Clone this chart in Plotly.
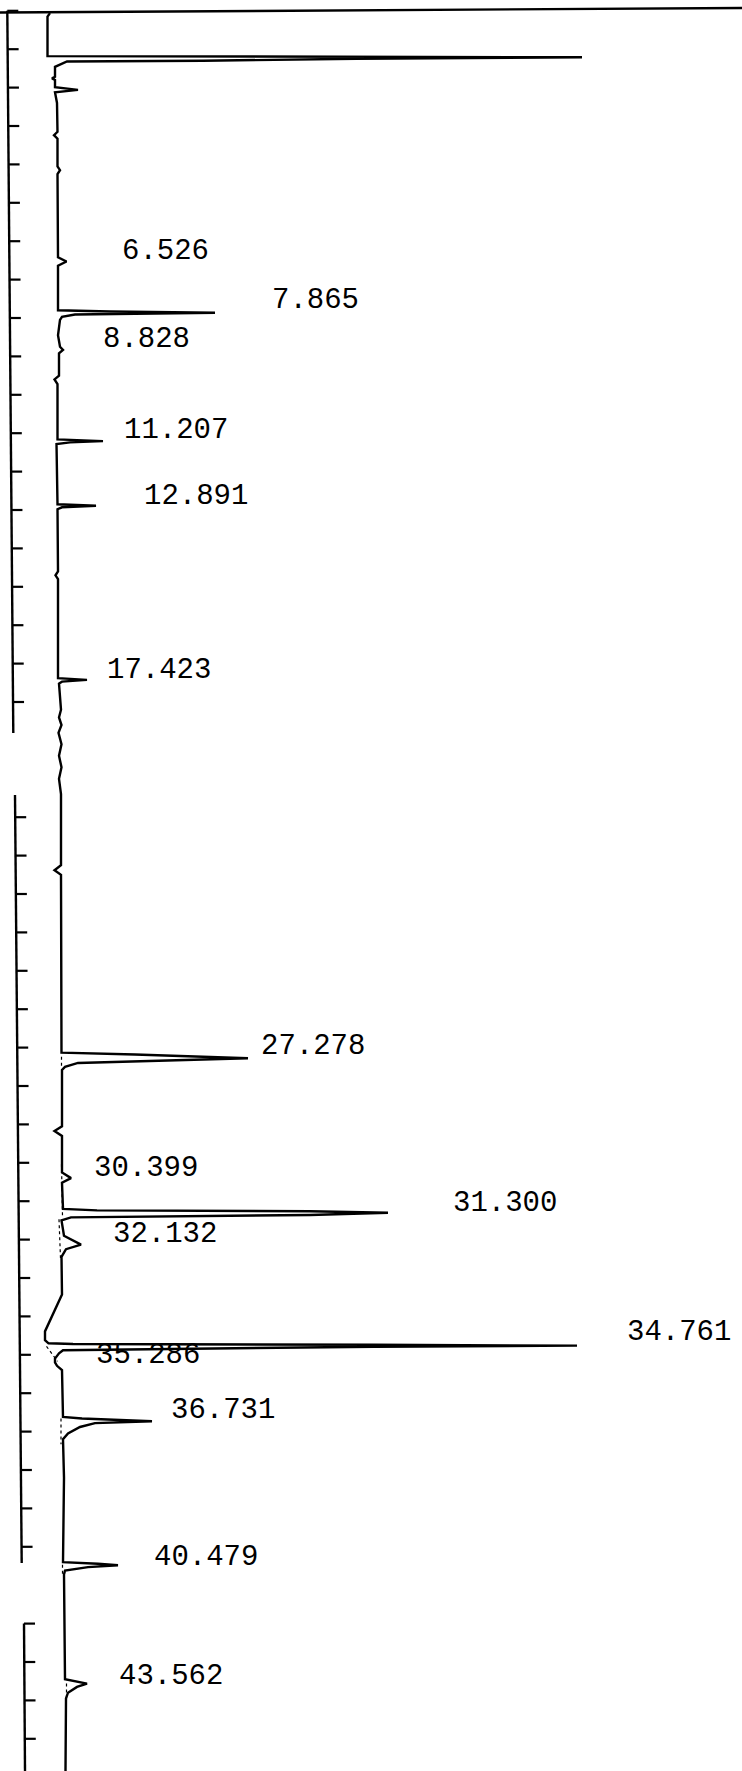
import plotly.graph_objects as go

# ---------------- data ----------------
# retention time (min) along the vertical axis, detector signal (arb. units) horizontally
time_min = [0.06, 0.15, 1.18, 1.20, 1.21, 1.25, 1.30, 1.32, 1.46, 1.72, 1.76, 1.80, 1.99, 2.06, 2.12,
            2.40, 3.15, 3.24, 3.33, 4.05, 4.15, 4.25, 5.40, 6.42, 6.53, 6.64,
            7.80, 7.83, 7.865, 7.91, 7.97, 8.05, 8.45, 8.75, 8.83, 8.92, 9.50, 9.60, 9.72,
            11.16, 11.207, 11.24, 11.28, 12.00, 12.85, 12.891, 12.93, 12.98,
            14.60, 14.70, 14.80, 17.38, 17.423, 17.47, 17.52,
            18.20, 18.40, 18.60, 18.80, 19.10, 19.40, 19.70, 20.00, 20.40, 22.25, 22.38, 22.50,
            27.13, 27.18, 27.278, 27.33, 27.40, 27.50, 27.58, 29.05, 29.17, 29.30,
            30.25, 30.399, 30.52, 31.20, 31.24, 31.26, 31.300, 31.36, 31.42, 31.50,
            31.90, 32.132, 32.25, 32.45, 33.43, 34.39, 34.62, 34.70, 34.72, 34.74, 34.761, 34.79,
            34.88, 34.96, 35.10, 35.20, 35.286, 35.40,
            36.62, 36.66, 36.731, 36.78, 36.88, 37.05, 37.20, 38.20,
            40.40, 40.44, 40.479, 40.53, 40.62, 40.72,
            43.45, 43.562, 43.65, 43.80, 43.95, 45.84]
signal = [-1.3, -1.8, -1.8, 60.0, 105.1, 60.0, 29.3, 2.1, -0.3, -0.3, -0.9, -0.3, -0.3, 4.3, -0.3,
          0.1, 0.2, -0.5, 0.2, 0.2, 0.7, 0.2, 0.3, 0.3, 2.0, 0.3,
          0.3, 10.7, 31.7, 3.7, 1.1, 0.7, 0.3, 0.7, 1.3, 0.5, 0.5, -0.4, 0.2,
          0.2, 9.3, 2.7, 0.0, 0.1, 0.2, 7.9, 1.1, 0.2,
          0.3, -0.2, 0.3, 0.3, 6.1, 1.1, 0.5,
          0.9, 0.5, 1.0, 0.4, 1.0, 0.5, 1.0, 0.5, 0.9, 0.9, -0.4, 0.9,
          1.0, 15.7, 38.3, 22.1, 4.3, 1.7, 1.1, 1.1, -0.4, 1.1,
          1.1, 2.9, 1.1, 1.3, 8.1, 50.7, 66.3, 50.7, 2.9, 1.0,
          1.5, 4.9, 1.9, 1.0, 1.1, -2.3, -2.3, -1.6, 3.3, 63.5, 104.1, 63.5,
          1.3, 0.5, -0.3, -0.3, 0.1, 1.1,
          1.3, 5.1, 19.1, 7.7, 4.7, 2.3, 1.3, 1.5,
          1.3, 8.3, 12.3, 6.3, 1.7, 1.5,
          1.7, 6.1, 4.1, 2.3, 1.9, 1.8]

# integrator baselines (dotted), segments separated by None
base_time = [27.24, 27.50, None, 30.04, 31.39, None, 31.47, 32.48, None, 34.78, 35.17, None,
             36.66, 37.33, None, 40.47, 40.75, None, 43.56, 43.95]
base_signal = [1.0, 1.0, None, 1.0, 1.2, None, 0.5, 0.8, None, -2.0, 0.2, None,
               0.9, 0.9, None, 1.2, 1.2, None, 2.0, 2.0]

peak_labels = ["6.526", "7.865", "8.828", "11.207", "12.891", "17.423", "27.278", "30.399",
               "31.300", "32.132", "34.761", "35.286", "36.731", "40.479", "43.562"]

# ---------------- layout / style ----------------
W, H = 742, 1771
PX_PER_MIN, Y0 = 38.4, 10.8
BASE_PX, PX_PER_UNIT = 56.5, 5.0
t_top = -Y0 / PX_PER_MIN
t_bot = (H - Y0) / PX_PER_MIN
x_lo = -BASE_PX / PX_PER_UNIT
x_hi = (W - BASE_PX) / PX_PER_UNIT

# label anchor: (left edge px, centre time)
label_pos = [(120, 6.28), (270, 7.55), (101, 8.55), (122, 10.94), (142, 12.66), (105, 17.17),
             (259, 26.96), (92, 30.14), (451, 31.05), (111, 31.88), (625, 34.41), (94, 35.01),
             (169, 36.44), (152, 40.29), (117, 43.39)]

fig = go.Figure()
fig.add_trace(go.Scatter(x=signal, y=time_min, mode="lines",
                         line=dict(color="black", width=2.4), hoverinfo="skip"))
fig.add_trace(go.Scatter(x=base_signal, y=base_time, mode="lines", connectgaps=False,
                         line=dict(color="black", width=1.2, dash="dot"), hoverinfo="skip"))

shapes = []
# top border line
shapes.append(dict(type="line", xref="paper", yref="y", x0=0, x1=1,
                   y0=(12.5 - Y0) / PX_PER_MIN, y1=(8 - Y0) / PX_PER_MIN,
                   line=dict(color="black", width=2.4)))

# minute ruler (three broken segments)
ruler_segments = [
    (0.0, 18.81, 7.3, 13.3, range(0, 19)),
    (20.42, 40.42, 15.0, 21.7, range(21, 41)),
    (42.0, 45.84, 24.0, 25.0, range(42, 46)),
]
for t0, t1, x0, x1, ticks in ruler_segments:
    shapes.append(dict(type="line", xref="paper", yref="y", x0=x0 / W, x1=x1 / W, y0=t0, y1=t1,
                       line=dict(color="black", width=2.4)))
    for tk in ticks:
        xp = x0 + (x1 - x0) * (tk - t0) / (t1 - t0)
        shapes.append(dict(type="line", xref="paper", yref="y", x0=xp / W, x1=(xp + 11) / W,
                           y0=tk, y1=tk, line=dict(color="black", width=2.2)))

annotations = []
for lab, (lx, lt) in zip(peak_labels, label_pos):
    annotations.append(dict(text=lab, xref="paper", yref="y", x=lx / W, y=lt,
                            xanchor="left", yanchor="middle", showarrow=False,
                            font=dict(family="Liberation Mono", size=29, color="black")))

fig.update_layout(
    width=W, height=H, margin=dict(l=0, r=0, t=0, b=0),
    paper_bgcolor="white", plot_bgcolor="white", showlegend=False,
    xaxis=dict(range=[x_lo, x_hi], visible=False, fixedrange=True),
    yaxis=dict(range=[t_bot, t_top], visible=False, fixedrange=True),
    shapes=shapes, annotations=annotations,
)

fig.write_html("out.html", config={"displayModeBar": False},
               post_script="document.body.style.margin='0';")
